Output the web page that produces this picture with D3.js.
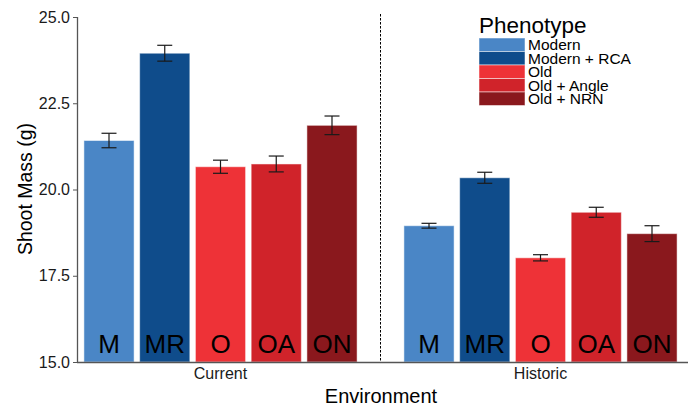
<!DOCTYPE html>
<html><head><meta charset="utf-8">
<script src="https://cdn.jsdelivr.net/npm/d3@7/dist/d3.min.js"></script>
<style>body{margin:0;background:#fff}svg{display:block;font-family:"Liberation Sans",Arial,sans-serif}</style>
</head><body><svg id="c" width="697" height="407"></svg>
<script>
const environments = ["Current", "Historic"];
const phenotypes = ["Modern", "Modern + RCA", "Old", "Old + Angle", "Old + NRN"];
const abbrevs = ["M", "MR", "O", "OA", "ON"];
const colors = ["#4a86c6", "#0f4c8b", "#ee3237", "#d0232a", "#8a181d"];
const currentMeans = [21.42, 23.95, 20.66, 20.74, 21.86];
const currentSE = [0.21, 0.23, 0.19, 0.23, 0.27];
const historicMeans = [18.95, 20.34, 18.02, 19.34, 18.72];
const historicSE = [0.07, 0.16, 0.09, 0.145, 0.23];
const yTicks = [15.0, 17.5, 20.0, 22.5, 25.0];

const svg = d3.select("#c");
const mLeft = 77, mRight = 688, mTop = 17, mBottom = 362;
const y = d3.scaleLinear().domain([15, 25]).range([mBottom, mTop]);
const x0 = d3.scaleBand().domain(environments).range([60.5, 700.5]);
const x1 = d3.scaleBand().domain(phenotypes).range([0, x0.bandwidth()]).paddingInner(0.1).paddingOuter(0.42);

const data = [];
environments.forEach((env, i) => {
  const m = i === 0 ? currentMeans : historicMeans;
  const s = i === 0 ? currentSE : historicSE;
  phenotypes.forEach((p, j) => data.push({env, p, j, mean: m[j], se: s[j]}));
});

// bars
svg.append("g").selectAll("rect").data(data).join("rect")
  .attr("x", d => x0(d.env) + x1(d.p))
  .attr("y", d => y(d.mean))
  .attr("width", x1.bandwidth())
  .attr("height", d => y(15) - y(d.mean))
  .attr("fill", (d) => colors[d.j])
  .attr("stroke", "#ffffff").attr("stroke-opacity", 0.5).attr("stroke-width", 1);

// error bars
const eb = svg.append("g").attr("stroke", "#1a1a1a").attr("stroke-width", 1.2);
data.forEach(d => {
  const cx = x0(d.env) + x1(d.p) + x1.bandwidth() / 2;
  eb.append("line").attr("x1", cx).attr("x2", cx).attr("y1", y(d.mean + d.se)).attr("y2", y(d.mean - d.se));
  [d.mean + d.se, d.mean - d.se].forEach(v =>
    eb.append("line").attr("x1", cx - 7.5).attr("x2", cx + 7.5).attr("y1", y(v)).attr("y2", y(v)));
});

// abbreviation labels
svg.append("g").selectAll("text").data(data).join("text")
  .attr("x", d => x0(d.env) + x1(d.p) + x1.bandwidth() / 2)
  .attr("y", 353)
  .attr("text-anchor", "middle")
  .attr("font-size", 26)
  .attr("fill", "#000")
  .text(d => abbrevs[d.j]);

// dashed separator
svg.append("line").attr("x1", 380.5).attr("x2", 380.5).attr("y1", 14).attr("y2", mBottom)
  .attr("stroke", "#000").attr("stroke-width", 1).attr("stroke-dasharray", "2.5,1.5");

// y axis
const yAxis = d3.axisLeft(y).tickValues(yTicks).tickFormat(d3.format(".1f")).tickSize(4).tickPadding(3);
const ya = svg.append("g").attr("transform", `translate(${mLeft},0)`).call(yAxis);
ya.select(".domain").attr("stroke", "#555").attr("stroke-width", 1.3).attr("d", `M0.5,${mTop}V${mBottom}`);
ya.selectAll(".tick line").attr("stroke", "#555");
ya.selectAll(".tick text").attr("font-size", 16).attr("fill", "#1a1a1a").attr("font-family", "Liberation Sans, Arial, sans-serif");

// x axis baseline
svg.append("line").attr("x1", mLeft).attr("x2", mRight).attr("y1", mBottom + 0.5).attr("y2", mBottom + 0.5)
  .attr("stroke", "#555").attr("stroke-width", 1.3);

// env labels
svg.append("g").selectAll("text").data(environments).join("text")
  .attr("x", d => x0(d) + x0.bandwidth() / 2)
  .attr("y", 379).attr("text-anchor", "middle").attr("font-size", 16).attr("fill", "#1a1a1a")
  .text(d => d);

// axis titles
svg.append("text").attr("x", 381).attr("y", 403).attr("text-anchor", "middle").attr("font-size", 20).text("Environment");
svg.append("text").attr("transform", "translate(32,189) rotate(-90)").attr("text-anchor", "middle").attr("font-size", 19.5).text("Shoot Mass (g)");

// legend
const lg = svg.append("g").attr("transform", "translate(479,0)");
lg.append("text").attr("x", 0).attr("y", 33).attr("font-size", 22.5).text("Phenotype");
phenotypes.forEach((p, i) => {
  const yy = 38 + i * 13.5;
  lg.append("rect").attr("x", 0).attr("y", yy).attr("width", 46).attr("height", 13.5).attr("fill", colors[i])
    .attr("stroke", "#fff").attr("stroke-opacity", 0.5);
});
phenotypes.forEach((p, i) => {
  const yy = 38 + i * 13.5;
  lg.append("text").attr("x", 49).attr("y", yy + 12).attr("font-size", 15.5).text(p);
});
</script></body></html>
